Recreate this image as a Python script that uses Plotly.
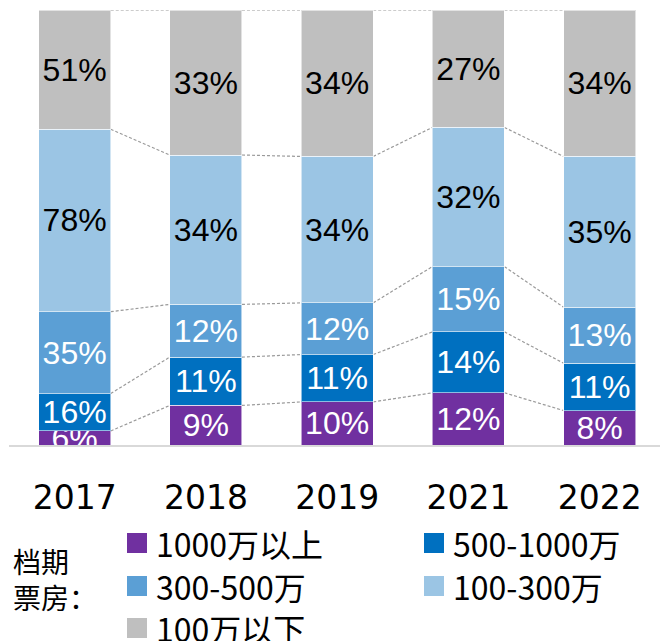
import plotly.graph_objects as go

# Box-office share by release window, per year (values as labelled)
years = ["2017", "2018", "2019", "2021", "2022"]
series_names = ["1000万以上", "500-1000万", "300-500万", "100-300万", "100万以下"]
above_1000 = [6, 9, 10, 12, 8]
from_500_to_1000 = [16, 11, 11, 14, 11]
from_300_to_500 = [35, 12, 12, 15, 13]
from_100_to_300 = [78, 34, 34, 32, 35]
below_100 = [51, 33, 34, 27, 34]

series_values = [above_1000, from_500_to_1000, from_300_to_500, from_100_to_300, below_100]
colors = ["#7030A0", "#0070C0", "#5B9FD5", "#9BC5E4", "#BFBFBF"]
text_colors = ["white", "white", "white", "black", "black"]

W, H = 660, 641
M_L, M_R, M_T, M_B = 9, 0, 10, 196
plot_w = W - M_L - M_R
plot_h = H - M_T - M_B
BAR_W = 0.55
X_RANGE = [-0.5, 4.46]


def px_x(px):
    return (px - M_L) / plot_w


def px_y(py):
    return (H - M_B - py) / plot_h


fig = go.Figure()
for name, vals, col, tcol in zip(series_names, series_values, colors, text_colors):
    fig.add_trace(go.Bar(
        x=years, y=vals, name=name,
        marker=dict(color=col, line=dict(color="rgba(255,255,255,0.55)", width=1)),
        text=[f"{v}%" for v in vals],
        textposition="inside", insidetextanchor="middle",
        constraintext="none",
        textfont=dict(family="Liberation Sans, Arial, sans-serif", size=32, color=tcol),
        showlegend=False,
    ))

# Dashed connectors between the segment boundaries of neighbouring bars
totals = [sum(s[i] for s in series_values) for i in range(len(years))]
cum = []
for i in range(len(years)):
    acc, row = 0, []
    for s in series_values:
        acc += s[i]
        row.append(acc / totals[i] * 100)
    cum.append(row)

shapes = []
for i in range(len(years) - 1):
    for k in range(len(series_values)):
        shapes.append(dict(
            type="line", xref="x", yref="y",
            x0=i + BAR_W / 2, x1=i + 1 - BAR_W / 2,
            y0=cum[i][k], y1=cum[i + 1][k],
            line=dict(color="#9A9A9A", width=1.2, dash="3px,2px"),
            layer="below",
        ))

# Legend drawn as coloured squares with labels in two columns
annotations = []
col_px = [127, 424]
row_py = [543, 586, 628]
for idx, (name, col) in enumerate(zip(series_names, colors)):
    r, c = idx // 2, idx % 2
    x0 = col_px[c]
    yc = row_py[r]
    shapes.append(dict(
        type="rect", xref="paper", yref="paper",
        x0=px_x(x0), x1=px_x(x0 + 20), y0=px_y(yc + 10), y1=px_y(yc - 10),
        fillcolor=col, line=dict(width=0),
    ))
    annotations.append(dict(
        xref="paper", yref="paper", x=px_x(x0 + 27), y=px_y(yc),
        xanchor="left", yanchor="middle", showarrow=False, text=name,
        font=dict(family="Noto Sans CJK SC, sans-serif", size=32, color="black"),
    ))

annotations.append(dict(
    xref="paper", yref="paper", x=px_x(11), y=px_y(579),
    xanchor="left", yanchor="middle", showarrow=False, align="left",
    text="档期<br>票房：",
    font=dict(family="Noto Sans CJK SC, sans-serif", size=28, color="black"),
))

fig.update_layout(
    width=W, height=H,
    margin=dict(l=M_L, r=M_R, t=M_T, b=M_B),
    barmode="stack", barnorm="percent", bargap=1 - BAR_W,
    plot_bgcolor="white", paper_bgcolor="white",
    shapes=shapes, annotations=annotations,
    xaxis=dict(
        type="category", range=X_RANGE,
        showline=True, linecolor="#D9D9D9", linewidth=2,
        showgrid=False, ticks="", ticklabelstandoff=22,
        tickfont=dict(family="DejaVu Sans, sans-serif", size=33, color="black"),
    ),
    yaxis=dict(range=[0, 100], visible=False, showgrid=False),
)

fig.write_html("out.html")
